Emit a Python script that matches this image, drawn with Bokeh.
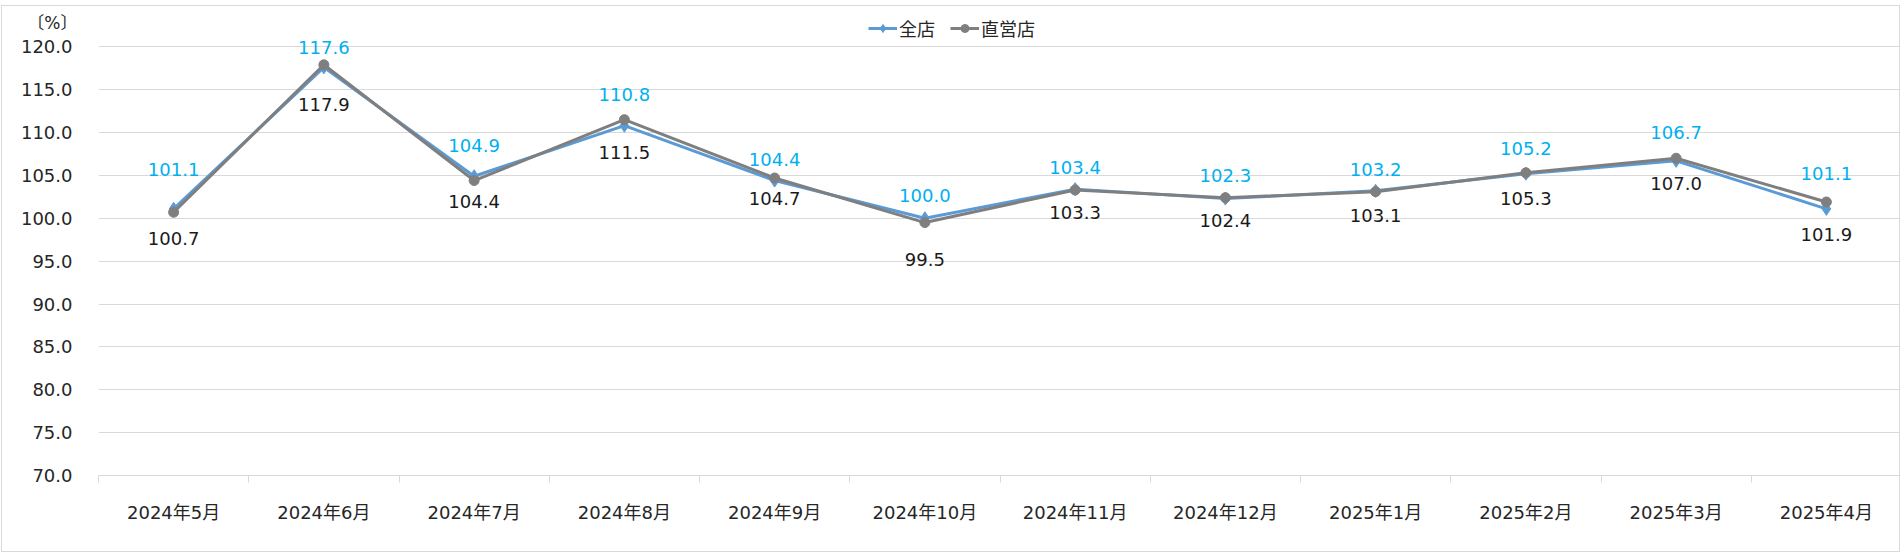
from bokeh.plotting import figure
from bokeh.models import (FactorRange, Range1d, Legend, LegendItem, LinearAxis,
                          CategoricalAxis, FixedTicker, Grid, PrintfTickFormatter,
                          CustomJSTickFormatter)
from bokeh.core.properties import value
from bokeh.embed import file_html
from bokeh.resources import INLINE

months = ["2024年5月", "2024年6月", "2024年7月", "2024年8月", "2024年9月", "2024年10月",
          "2024年11月", "2024年12月", "2025年1月", "2025年2月", "2025年3月", "2025年4月"]
zenten = [101.1, 117.6, 104.9, 110.8, 104.4, 100.0, 103.4, 102.3, 103.2, 105.2, 106.7, 101.1]
chokuei = [100.7, 117.9, 104.4, 111.5, 104.7, 99.5, 103.3, 102.4, 103.1, 105.3, 107.0, 101.9]
y_ticks = [70, 75, 80, 85, 90, 95, 100, 105, 110, 115, 120]
unit_text = "〔%〕"

# label offsets in screen px (styling)
top_off = [39, 20, 31, 31, 21, 23, 22, 23, 21, 25, 28, 35]
bot_off = [26, 40, 21, 33, 21, 37, 23, 23, 24, 26, 25, 33]

FONT = "'DejaVu Sans', 'Noto Sans CJK JP', sans-serif"
BLUE = "#5b9bd5"
GRAY = "#7f7f7f"
CYAN = "#00b0f0"
TXT = "#262626"
GRID = "#d9d9d9"

p = figure(width=1899, height=547, x_range=FactorRange(*months), y_range=Range1d(70, 124),
           output_backend="svg", toolbar_location=None,
           x_axis_location=None, y_axis_location=None,
           min_border_left=96, min_border_right=0, min_border_top=6, min_border_bottom=78)
p.margin = (5, 0, 0, 1)
p.outline_line_color = None
p.grid.visible = False
p.styles = {"border": "1px solid #d9d9d9", "box-sizing": "border-box"}

yaxis = LinearAxis(ticker=FixedTicker(ticks=y_ticks), formatter=PrintfTickFormatter(format="%.1f"))
yaxis.axis_line_color = None
yaxis.major_tick_in = 0
yaxis.major_tick_out = 0
yaxis.minor_tick_line_color = None
yaxis.major_label_standoff = 26
yaxis.major_label_text_font = FONT
yaxis.major_label_text_font_size = "18px"
yaxis.major_label_text_color = TXT
p.add_layout(yaxis, "left")

# unit caption "〔%〕" at the top of the value axis
unit_axis = LinearAxis(ticker=FixedTicker(ticks=[122.8]),
                       formatter=CustomJSTickFormatter(args=dict(t=unit_text), code="return t"))
unit_axis.axis_line_color = None
unit_axis.major_tick_in = 0
unit_axis.major_tick_out = 0
unit_axis.minor_tick_line_color = None
unit_axis.major_label_standoff = -60
unit_axis.major_label_text_font = FONT
unit_axis.major_label_text_font_size = "17px"
unit_axis.major_label_text_color = TXT
p.add_layout(unit_axis, "left")

p.add_layout(Grid(dimension=1, ticker=FixedTicker(ticks=y_ticks), grid_line_color=GRID,
                  grid_line_width=1))

tick_axis = LinearAxis(ticker=FixedTicker(ticks=list(range(len(months) + 1))),
                       formatter=CustomJSTickFormatter(code="return ''"))
tick_axis.axis_line_color = GRID
tick_axis.major_tick_line_color = GRID
tick_axis.major_tick_in = 0
tick_axis.major_tick_out = 7
tick_axis.minor_tick_line_color = None
tick_axis.major_label_text_font_size = "0px"
tick_axis.major_label_standoff = 0
p.add_layout(tick_axis, "below")

xaxis = CategoricalAxis()
xaxis.axis_line_color = None
xaxis.major_tick_line_color = None
xaxis.major_label_standoff = 13
xaxis.major_label_text_font = FONT
xaxis.major_label_text_font_size = "18px"
xaxis.major_label_text_color = TXT
p.add_layout(xaxis, "below")

r1 = p.line(months, zenten, line_color=BLUE, line_width=3)
s1 = p.scatter(months, zenten, marker="diamond", size=13, fill_color=BLUE, line_color=BLUE)
r2 = p.line(months, chokuei, line_color=GRAY, line_width=3)
s2 = p.scatter(months, chokuei, marker="circle", size=10, fill_color=GRAY, line_color=GRAY)

p.text(x=months, y=zenten, text=[f"{v:.1f}" for v in zenten], y_offset=[-o for o in top_off],
       text_color=CYAN, text_font=value(FONT), text_font_size="18px",
       text_align="center", text_baseline="middle")
p.text(x=months, y=chokuei, text=[f"{v:.1f}" for v in chokuei], y_offset=bot_off,
       text_color="#1a1a1a", text_font=value(FONT), text_font_size="18px",
       text_align="center", text_baseline="middle")

legend = Legend(items=[LegendItem(label="全店", renderers=[r1, s1]),
                       LegendItem(label="直営店", renderers=[r2, s2])],
                orientation="horizontal", location=(770, 434),
                border_line_color=None, background_fill_alpha=0,
                label_text_font=FONT, label_text_font_size="18px", label_text_color=TXT,
                glyph_width=29, glyph_height=20, label_standoff=2, spacing=15,
                padding=0, margin=0)
p.add_layout(legend)

open("out.html", "w").write(file_html(p, INLINE))
